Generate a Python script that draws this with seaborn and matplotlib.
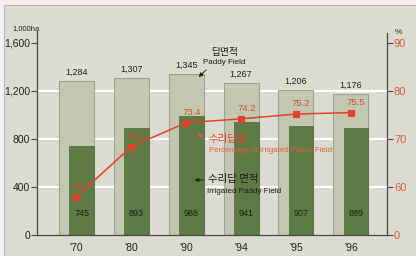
import numpy as np
import pandas as pd
import matplotlib
matplotlib.use("Agg")
import matplotlib.pyplot as plt
import seaborn as sns
from matplotlib.patches import Rectangle

years = ["'70", "'80", "'90", "'94", "'95", "'96"]
paddy = [1284, 1307, 1345, 1267, 1206, 1176]
irrigated = [745, 893, 988, 941, 907, 889]
pct = [58.0, 68.4, 73.4, 74.2, 75.2, 75.5]
left_ticks = [0, 400, 800, 1200, 1600]
left_ticklabels = ["0", "400", "800", "1,200", "1,600"]
right_ticks = [50, 60, 70, 80, 90]
right_ticklabels = ["0", "60", "70", "80", "90"]

sns.set_theme(style="white")
plt.rcParams['font.family'] = ['Liberation Sans', 'DejaVu Sans']
KR = ['Noto Sans CJK KR', 'DejaVu Sans']

BG = "#dcdbd2"
LIGHT = "#c3c7b1"
EDGE = "#9da38c"
DARK = "#5f7b45"
RED = "#e0432b"
REDTXT = "#c9532e"
AXC = "#4a4a4a"

fig = plt.figure(figsize=(4.16, 2.56), dpi=100)
fig.patch.set_facecolor("#f4eff0")
bgrect = Rectangle((4/416, 0), 1, 1 - 5/256, transform=fig.transFigure,
                   facecolor=BG, edgecolor="#b8b8b0", linewidth=0.8, zorder=-10)
fig.patches.append(bgrect)

ax = fig.add_axes([37/416, 1 - 235/256, 350/416, 204/256])
ax.set_facecolor("none")

df = pd.DataFrame({"year": years, "paddy": paddy, "irrigated": irrigated, "pct": pct})

sns.barplot(data=df, x="year", y="paddy", width=0.64, color=LIGHT, edgecolor=EDGE,
            linewidth=0.8, saturation=1, ax=ax, zorder=1)
n_light = len(ax.patches)
sns.barplot(data=df, x="year", y="irrigated", width=0.45, color=DARK, edgecolor="#4e6838",
            linewidth=0.5, saturation=1, ax=ax, zorder=2)
shift = (0.64 - 0.45) / 2
for p in ax.patches[n_light:]:
    p.set_x(p.get_x() + shift)

for yv in [400, 800, 1200]:
    ax.axhline(yv, color="white", lw=1.6, zorder=0.5)

for i, (pv, iv) in enumerate(zip(paddy, irrigated)):
    ax.annotate(f"{pv:,}", (i, pv), xytext=(0, 3), textcoords="offset points",
                ha="center", va="bottom", fontsize=6.5, color="#222222")
    ax.text(i + shift, 180, f"{iv:,}", ha="center", va="center", fontsize=6.5, color="#1a1a1a")

ax.set_xlim(-0.72, 5.66)
ax.set_ylim(0, 1700)
ax.set_yticks(left_ticks)
ax.set_yticklabels(left_ticklabels)
ax.set_xlabel("")
ax.set_ylabel("")
ax.tick_params(axis="y", direction="out", length=4, width=0.8, color=AXC, labelsize=7.5,
               labelcolor="#222222", pad=1, left=True)
ax.tick_params(axis="x", length=0, labelsize=7.5, labelcolor="#222222", pad=6)
for s in ["top", "right"]:
    ax.spines[s].set_visible(False)
for s in ["left", "bottom"]:
    ax.spines[s].set_color(AXC)
    ax.spines[s].set_linewidth(0.9)

ax2 = ax.twinx()
ax2.set_facecolor("none")
sns.pointplot(data=df, x="year", y="pct", color=RED, markers="s", markersize=5,
              linewidth=1.1, ax=ax2, zorder=4)
ax2.set_xlim(-0.72, 5.66)
ax2.set_ylim(50, 50 + 1700 / 40)
ax2.set_yticks(right_ticks)
ax2.set_yticklabels(right_ticklabels)
ax2.set_ylabel("")
ax2.set_xlabel("")
ax2.tick_params(axis="y", direction="out", length=4, width=0.8, color=AXC, labelsize=8,
                labelcolor="#d0603a", pad=1, right=True)
for s in ["top", "left", "bottom"]:
    ax2.spines[s].set_visible(False)
ax2.spines["right"].set_color(AXC)
ax2.spines["right"].set_linewidth(0.9)
ax2.spines["right"].set_bounds(50, 92)

for i, v in enumerate(pct):
    ax2.text(i + shift, v + 1.2, f"{v:.1f}", ha="center", va="bottom", fontsize=6.8, color=REDTXT)

# annotations
ax.annotate("", xy=(2.19, 1300), xytext=(2.40, 1392),
            arrowprops=dict(arrowstyle="-|>", color="#222222", lw=0.7, mutation_scale=6))
ax.text(2.70, 1525, "답면적", ha="center", va="center", fontsize=7, family=KR, color="#1a1a1a")
ax.text(2.70, 1440, "Paddy Field", ha="center", va="center", fontsize=5.8, color="#1a1a1a")

ax.annotate("", xy=(2.17, 862), xytext=(2.36, 792),
            arrowprops=dict(arrowstyle="-|>", color="#d06040", lw=0.7, mutation_scale=6))
ax.text(2.41, 800, "수리답율", ha="left", va="center", fontsize=7.5, family=KR, color=RED)
ax.text(2.41, 705, "Percentage of Irrigated Paddy Field", ha="left", va="center",
        fontsize=5.6, color="#e0603a")

ax.annotate("", xy=(2.10, 458), xytext=(2.37, 458),
            arrowprops=dict(arrowstyle="-|>", color="#222222", lw=0.7, mutation_scale=6))
ax.text(2.40, 465, "수리답 면적", ha="left", va="center", fontsize=7.5, family=KR, color="#1a1a1a")
ax.text(2.38, 365, "Irrigated Paddy Field", ha="left", va="center", fontsize=5.8, color="#1a1a1a")

fig.text(12/416, 1 - 29/256, "1,000ha", ha="left", va="center", fontsize=5.5, color="#222222")
fig.text(398/416, 1 - 33/256, "%", ha="center", va="center", fontsize=6, color="#333333")

fig.savefig("out.png", dpi=100, facecolor=fig.get_facecolor())
